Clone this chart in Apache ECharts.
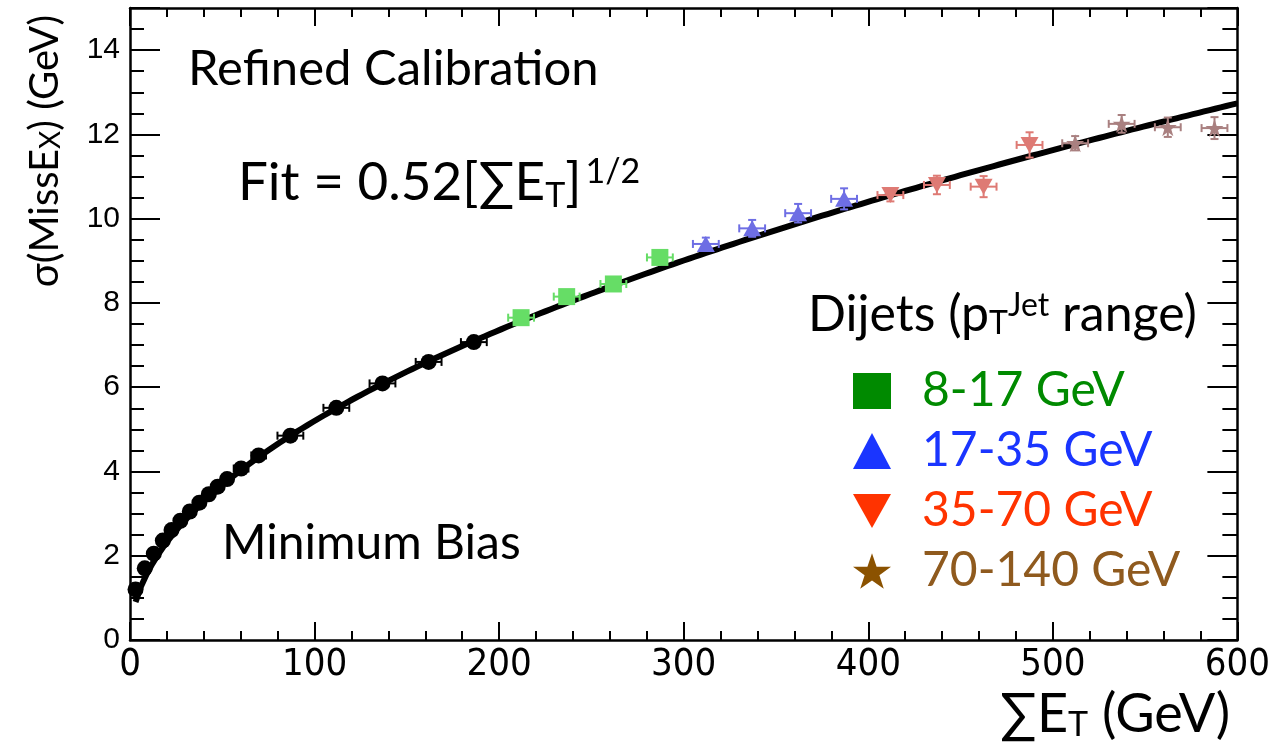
<!DOCTYPE html>
<html>
<head>
<meta charset="utf-8">
<script src="https://cdn.jsdelivr.net/npm/echarts@6/dist/echarts.min.js"></script>
<style>
  html, body { margin: 0; padding: 0; background: #fff; }
  #chart { width: 1273px; height: 750px; }
</style>
</head>
<body>
<div id="chart"></div>
<script>
// ---- Minimum bias sample ----
const mbX    = [3.0, 8.0, 12.9, 17.8, 22.5, 27.3, 32.4, 37.6, 42.7, 47.5, 52.6, 60.2, 69.7, 86.9, 111.8, 136.8, 161.8, 186.3];
const mbY    = [1.20, 1.70, 2.05, 2.36, 2.61, 2.83, 3.05, 3.26, 3.46, 3.64, 3.82, 4.07, 4.38, 4.85, 5.51, 6.09, 6.60, 7.07];
const mbXErr = [1.5, 2.5, 2.5, 2.5, 2.5, 2.5, 2.5, 2.5, 2.5, 2.5, 2.5, 4, 4, 7, 7, 7, 7, 7];
const mbYErr = [0.05, 0.05, 0.05, 0.05, 0.05, 0.05, 0.05, 0.05, 0.05, 0.05, 0.05, 0.05, 0.05, 0.05, 0.05, 0.05, 0.05, 0.05];

// ---- Dijet samples, by leading-jet pT range ----
const dj1X = [211.9, 236.6, 261.9, 287.1];          // 8-17 GeV
const dj1Y = [7.65, 8.15, 8.45, 9.08];
const dj1XErr = [7, 7, 7, 7];
const dj1YErr = [0.08, 0.1, 0.1, 0.12];

const dj2X = [312.0, 337.1, 362.0, 386.9];          // 17-35 GeV
const dj2Y = [9.40, 9.77, 10.13, 10.47];
const dj2XErr = [7, 7, 7, 7];
const dj2YErr = [0.15, 0.2, 0.22, 0.25];

const dj3X = [412.0, 437.2, 462.5, 487.4];          // 35-70 GeV
const dj3Y = [10.56, 10.80, 10.76, 11.75];
const dj3XErr = [7, 7, 7, 7];
const dj3YErr = [0.15, 0.22, 0.25, 0.3];

const dj4X = [512.1, 537.3, 562.3, 587.6];          // 70-140 GeV
const dj4Y = [11.79, 12.25, 12.17, 12.15];
const dj4XErr = [7, 7, 7, 7];
const dj4YErr = [0.17, 0.21, 0.23, 0.26];

// ---- Fit: sigma = 0.52 * sqrt(sum ET) ----
const fitCoeff = 0.52;
const fitRange = [3, 600];

// ---- Axis ticks ----
const xTicks = { min: 0, max: 600, major: 100 };
const yTicks = { min: 0, max: 15, major: 2, minor: 0.5 };

const labelFont = "Lato, 'Noto Sans', sans-serif";
const numFont = "'Liberation Sans', Arial, sans-serif";
const narrowFont = "'Liberation Sans Narrow', 'DejaVu Sans Condensed', 'Liberation Sans', sans-serif";

const starPath = 'path://M50,0 L61.8,35.1 L98.9,35.1 L69,56.9 L80.3,91.9 L50,70.3 L19.7,91.9 L31,56.9 L1.1,35.1 L38.2,35.1 Z';
const downTriPath = 'path://M0,0 L100,0 L50,90 Z';

function zip(xs, ys) { return xs.map((x, i) => [x, ys[i]]); }
function zip4(xs, ys, ex, ey) { return xs.map((x, i) => [x, ys[i], ex[i], ey[i]]); }

function errorBars(xs, ys, ex, ey, color, width) {
  return {
    type: 'custom',
    xAxisIndex: 0, yAxisIndex: 0,
    z: 3,
    silent: true,
    data: zip4(xs, ys, ex, ey),
    renderItem: function (params, api) {
      const x = api.value(0), y = api.value(1), dx = api.value(2), dy = api.value(3);
      const l = api.coord([x - dx, y]);
      const r = api.coord([x + dx, y]);
      const t = api.coord([x, y + dy]);
      const b = api.coord([x, y - dy]);
      const cap = 4;
      const st = { stroke: color, lineWidth: width };
      return {
        type: 'group',
        children: [
          { type: 'line', shape: { x1: l[0], y1: l[1], x2: r[0], y2: r[1] }, style: st },
          { type: 'line', shape: { x1: l[0], y1: l[1] - cap, x2: l[0], y2: l[1] + cap }, style: st },
          { type: 'line', shape: { x1: r[0], y1: r[1] - cap, x2: r[0], y2: r[1] + cap }, style: st },
          { type: 'line', shape: { x1: t[0], y1: t[1], x2: b[0], y2: b[1] }, style: st },
          { type: 'line', shape: { x1: t[0] - cap, y1: t[1], x2: t[0] + cap, y2: t[1] }, style: st },
          { type: 'line', shape: { x1: b[0] - cap, y1: b[1], x2: b[0] + cap, y2: b[1] }, style: st }
        ]
      };
    }
  };
}

const fitData = [];
for (let x = fitRange[0]; x <= fitRange[1]; x += 3) fitData.push([x, fitCoeff * Math.sqrt(x)]);

const colMB = '#000000';
const col1 = '#66dd66', col2 = '#6e6ee4', col3 = '#de7a74', col4 = '#a98080';

function xAxisDef(pos, showLabel) {
  return {
    type: 'value', position: pos, min: xTicks.min, max: xTicks.max, interval: xTicks.major,
    axisLine: { show: true, onZero: false, lineStyle: { color: '#000', width: 2.5 } },
    axisTick: { show: true, inside: true, length: 18, lineStyle: { color: '#000', width: 2 } },
    minorTick: { show: true, splitNumber: 5, length: 9, lineStyle: { color: '#000', width: 2 } },
    axisLabel: { show: showLabel, color: '#000', fontFamily: narrowFont, fontSize: 38, margin: 6 },
    splitLine: { show: false }, minorSplitLine: { show: false }
  };
}
function yAxisDef(pos, interval, tickLen, showLabel, showLine) {
  return {
    type: 'value', position: pos, min: yTicks.min, max: yTicks.max, interval: interval,
    axisLine: { show: showLine, onZero: false, lineStyle: { color: '#000', width: 2.5 } },
    axisTick: { show: true, inside: true, length: tickLen, lineStyle: { color: '#000', width: 2 } },
    axisLabel: {
      show: showLabel, color: '#000', fontFamily: numFont, fontSize: 30, margin: 10,
      formatter: v => (v % yTicks.major === 0 && v < yTicks.max ? String(v) : '')
    },
    splitLine: { show: false }
  };
}

const chart = echarts.init(document.getElementById('chart'), null, { renderer: 'canvas' });

chart.setOption({
  animation: false,
  backgroundColor: '#fff',
  grid: { left: 130, right: 35, top: 8, bottom: 110, containLabel: false },
  xAxis: [xAxisDef('bottom', true), xAxisDef('top', false)],
  yAxis: [
    yAxisDef('left', yTicks.major, 30, true, true),
    yAxisDef('left', yTicks.minor, 14, false, false),
    yAxisDef('right', yTicks.major, 30, false, true),
    yAxisDef('right', yTicks.minor, 15, false, false)
  ],
  legend: {
    orient: 'vertical',
    left: 848, top: 362,
    itemWidth: 38, itemHeight: 36, itemGap: 12,
    selectedMode: false,
    textStyle: { fontFamily: labelFont, fontSize: 48, padding: [0, 0, 0, 26] },
    data: [
      { name: '8-17 GeV', icon: 'rect', itemStyle: { color: '#008a00' }, textStyle: { color: '#008a00' } },
      { name: '17-35 GeV', icon: 'triangle', itemStyle: { color: '#1a35ff' }, textStyle: { color: '#1a35ff' } },
      { name: '35-70 GeV', icon: downTriPath, itemStyle: { color: '#ff3300' }, textStyle: { color: '#ff3300' } },
      { name: '70-140 GeV', icon: starPath, itemStyle: { color: '#8b5200' }, textStyle: { color: '#8f5a1e' } }
    ]
  },
  graphic: [
    { type: 'text', left: 188, top: 45, style: { text: 'Refined Calibration', font: '49px ' + labelFont, fill: '#000' } },
    { type: 'text', left: 238, top: 155, style: {
        text: '{a|Fit = 0.52[∑E}{s|T}{a|]}{p|1/2}',
        rich: {
          a: { font: '53px ' + labelFont, fill: '#000', verticalAlign: 'bottom' },
          s: { font: '34px ' + labelFont, fill: '#000', verticalAlign: 'bottom', padding: [0, 0, -4, 0] },
          p: { font: '34px ' + labelFont, fill: '#000', verticalAlign: 'top', padding: [0, 0, 20, 4] }
        } } },
    { type: 'text', left: 222, top: 520, style: { text: 'Minimum Bias', font: '48px ' + labelFont, fill: '#000' } },
    { type: 'text', left: 808, top: 290, style: {
        text: '{a|Dijets (p}{s|T}{p|Jet}{a| range)}',
        rich: {
          a: { font: '50px ' + labelFont, fill: '#000', verticalAlign: 'bottom' },
          s: { font: '32px ' + labelFont, fill: '#000', verticalAlign: 'bottom' },
          p: { font: '32px ' + labelFont, fill: '#000', verticalAlign: 'top', padding: [0, 0, 18, 0] }
        } } },
    { type: 'text', x: 45, y: 151, rotation: Math.PI / 2, style: {
        text: '{a|σ(MissE}{s|X}{a|) (GeV)}',
        align: 'center', verticalAlign: 'middle',
        rich: {
          a: { font: '40px ' + labelFont, fill: '#000', verticalAlign: 'bottom' },
          s: { font: '28px ' + labelFont, fill: '#000', verticalAlign: 'bottom' }
        } } },
    { type: 'text', left: 1000, top: 688, style: {
        text: '{a|∑E}{s|T}{a| (GeV)}',
        rich: {
          a: { font: '54px ' + labelFont, fill: '#000', verticalAlign: 'bottom' },
          s: { font: '34px ' + labelFont, fill: '#000', verticalAlign: 'bottom' }
        } } }
  ],
  series: [
    {
      name: 'Fit', type: 'line', data: fitData, showSymbol: false, smooth: false,
      lineStyle: { color: '#000', width: 6 }, z: 2, silent: true
    },
    errorBars(mbX, mbY, mbXErr, mbYErr, colMB, 2),
    errorBars(dj1X, dj1Y, dj1XErr, dj1YErr, col1, 2),
    errorBars(dj2X, dj2Y, dj2XErr, dj2YErr, col2, 2),
    errorBars(dj3X, dj3Y, dj3XErr, dj3YErr, col3, 2),
    errorBars(dj4X, dj4Y, dj4XErr, dj4YErr, col4, 2),
    { name: 'Minimum Bias', type: 'scatter', data: zip(mbX, mbY), symbol: 'circle', symbolSize: 16,
      itemStyle: { color: colMB, opacity: 1 }, z: 4 },
    { name: '8-17 GeV', type: 'scatter', data: zip(dj1X, dj1Y), symbol: 'rect', symbolSize: 17,
      itemStyle: { color: col1, opacity: 1 }, z: 4 },
    { name: '17-35 GeV', type: 'scatter', data: zip(dj2X, dj2Y), symbol: 'triangle', symbolSize: [18, 16],
      itemStyle: { color: col2, opacity: 1 }, z: 4 },
    { name: '35-70 GeV', type: 'scatter', data: zip(dj3X, dj3Y), symbol: downTriPath, symbolSize: [18, 16],
      itemStyle: { color: col3, opacity: 1 }, z: 4 },
    { name: '70-140 GeV', type: 'scatter', data: zip(dj4X, dj4Y), symbol: starPath, symbolSize: 18,
      itemStyle: { color: col4, opacity: 1 }, z: 4 }
  ]
});
</script>
</body>
</html>
